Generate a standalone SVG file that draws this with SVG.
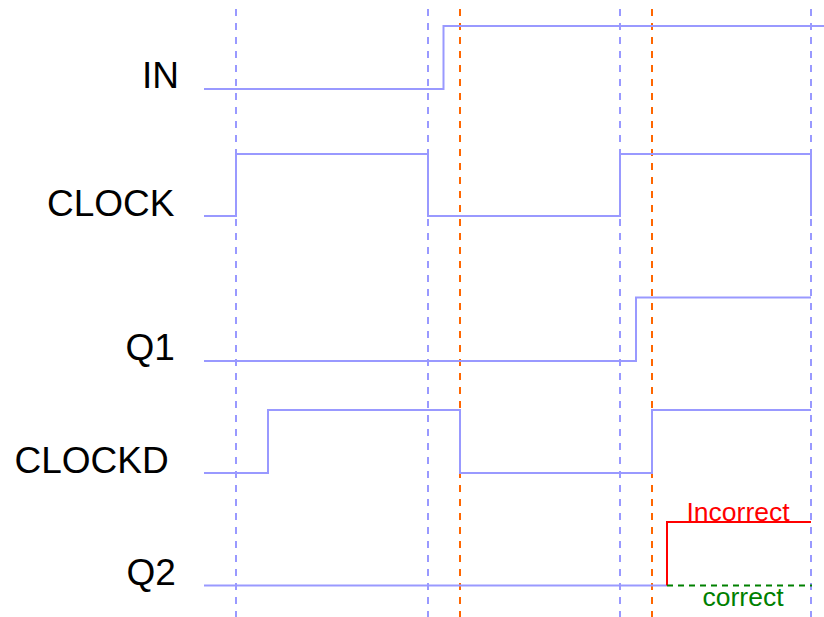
<svg xmlns="http://www.w3.org/2000/svg" width="824" height="617" viewBox="0 0 824 617">
<style>
.grid{stroke:#9999ff;stroke-width:2;stroke-dasharray:7,7;fill:none}
.edge{stroke:#ff6600;stroke-width:2;stroke-dasharray:7,7;fill:none}
.sig{stroke:#9999ff;stroke-width:2;fill:none}
.lbl{font-family:"Liberation Sans",Arial,sans-serif;font-size:37px;fill:#000}
.note{font-family:"Liberation Sans",Arial,sans-serif;font-size:26.5px}
</style>
<rect width="824" height="617" fill="#fff"/>
<g id="gridlines">
<line class="grid" x1="236" y1="9" x2="236" y2="617"/>
<line class="grid" x1="428" y1="9" x2="428" y2="617"/>
<line class="grid" x1="620" y1="9" x2="620" y2="617"/>
<line class="grid" x1="811" y1="9" x2="811" y2="617"/>
<line class="edge" x1="460" y1="9" x2="460" y2="617"/>
<line class="edge" x1="652" y1="9" x2="652" y2="617"/>
</g>
<g id="IN">
<text class="lbl" x="142" y="88">IN</text>
<polyline class="sig" points="204,89 443.5,89 443.5,26 824,26"/>
</g>
<g id="CLOCK">
<text class="lbl" x="47" y="216">CLOCK</text>
<polyline class="sig" points="204,216 236,216 236,154 428,154 428,216 620,216 620,154 811,154 811,216"/>
</g>
<g id="Q1">
<text class="lbl" x="125.5" y="360">Q1</text>
<polyline class="sig" points="204,361 636,361 636,297.5 811,297.5"/>
</g>
<g id="CLOCKD">
<text class="lbl" x="14.5" y="473">CLOCKD</text>
<polyline class="sig" points="204,473 268,473 268,410 460,410 460,473 652,473 652,410 811,410"/>
</g>
<g id="Q2">
<text class="lbl" x="126.5" y="585">Q2</text>
<polyline class="sig" points="204,585.5 667,585.5"/>
<polyline points="667,585.5 667,522 811,522" fill="none" stroke="#ff0000" stroke-width="2"/>
<line x1="667" y1="585.5" x2="812" y2="585.5" stroke="#008000" stroke-width="2" stroke-dasharray="6,5"/>
<text class="note" x="686.5" y="521" fill="#ff0000">Incorrect</text>
<text class="note" x="702.5" y="606" fill="#008000">correct</text>
</g>
</svg>
